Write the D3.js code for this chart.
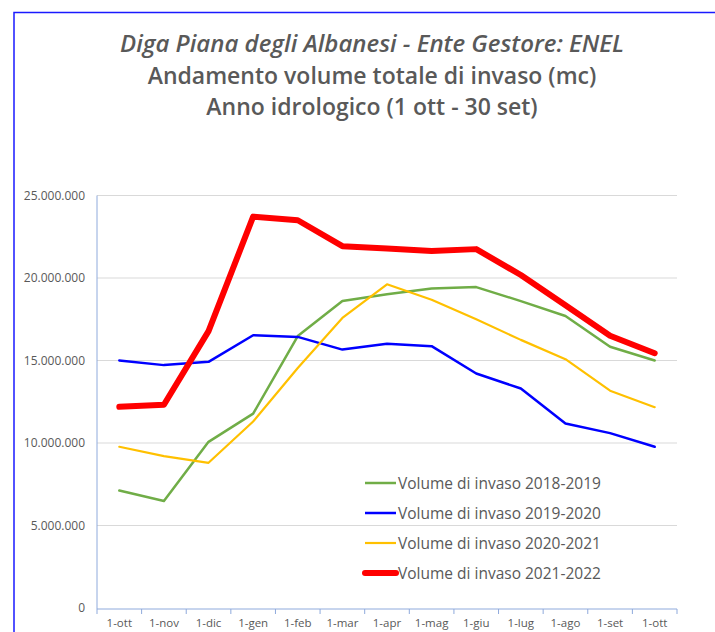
<!DOCTYPE html>
<html>
<head>
<meta charset="utf-8">
<script src="https://cdn.jsdelivr.net/npm/d3@7"></script>
<style>
  body { margin: 0; background: #fff; }
  svg { display: block; font-family: "Open Sans", sans-serif; }
</style>
</head>
<body>
<div id="chart"></div>
<script>
// data
const months = ["1-ott", "1-nov", "1-dic", "1-gen", "1-feb", "1-mar", "1-apr", "1-mag", "1-giu", "1-lug", "1-ago", "1-set", "1-ott "]
const vol2018 = [7.12, 6.48, 10.07, 11.78, 16.48, 18.6, 19.02, 19.36, 19.45, 18.6, 17.7, 15.83, 15.0]
const vol2019 = [15.0, 14.72, 14.92, 16.53, 16.43, 15.66, 16.02, 15.87, 14.21, 13.3, 11.18, 10.6, 9.77]
const vol2020 = [9.77, 9.2, 8.8, 11.3, 14.55, 17.58, 19.62, 18.68, 17.5, 16.25, 15.08, 13.17, 12.17]
const vol2021 = [12.19, 12.32, 16.78, 23.72, 23.5, 21.93, 21.79, 21.64, 21.75, 20.18, 18.35, 16.5, 15.44]
const seriesNames = ["Volume di invaso 2018-2019", "Volume di invaso 2019-2020", "Volume di invaso 2020-2021", "Volume di invaso 2021-2022"]
const yTicks = [0, 5000000, 10000000, 15000000, 20000000, 25000000]

const width = 715
const height = 632
const margin = { left: 97, right: 38, top: 195.5, bottom: 24 }
const grey = "#595959"

const series = [
  { name: seriesNames[0], values: vol2018, color: "#70AD47", w: 2.5 },
  { name: seriesNames[1], values: vol2019, color: "#0000FF", w: 2.5 },
  { name: seriesNames[2], values: vol2020, color: "#FFC000", w: 2.2 },
  { name: seriesNames[3], values: vol2021, color: "#FF0000", w: 6 }
]

const svg = d3.select("#chart").append("svg")
  .attr("width", width)
  .attr("height", height)

// frame
svg.append("path")
  .attr("d", `M14,${height} L14,12.5 L${width},12.5`)
  .attr("fill", "none")
  .attr("stroke", "#1a1aff")
  .attr("stroke-width", 1.5)

// title
const titles = [
  { t: "Diga Piana degli Albanesi - Ente Gestore: ENEL", y: 52, italic: true, size: 24 },
  { t: "Andamento volume totale di invaso (mc)", y: 84, italic: false, size: 23 },
  { t: "Anno idrologico (1 ott - 30 set)", y: 115, italic: false, size: 23 }
]
svg.append("g").selectAll("text")
  .data(titles)
  .enter()
  .append("text")
  .attr("x", 372)
  .attr("y", d => d.y)
  .attr("text-anchor", "middle")
  .attr("fill", grey)
  .attr("font-size", d => d.size)
  .attr("font-weight", 600)
  .attr("font-style", d => d.italic ? "italic" : "normal")
  .text(d => d.t)

const x = d3.scaleBand()
  .domain(months)
  .range([margin.left, width - margin.right])

const y = d3.scaleLinear()
  .domain([0, 25000000])
  .range([608, margin.top])

// gridlines
svg.append("g").selectAll("line")
  .data(yTicks.filter(d => d > 0))
  .enter()
  .append("line")
  .attr("x1", margin.left)
  .attr("x2", width - margin.right)
  .attr("y1", d => y(d))
  .attr("y2", d => y(d))
  .attr("stroke", "#D9D9D9")
  .attr("stroke-width", 1)

// y labels
svg.append("g").selectAll("text")
  .data(yTicks)
  .enter()
  .append("text")
  .attr("x", 85)
  .attr("y", d => y(d) + 4)
  .attr("text-anchor", "end")
  .attr("font-size", 12)
  .attr("fill", grey)
  .text(d => d3.format(",")(d).replace(/,/g, "."))

// axes lines
const axisColor = "#8FAADC"
svg.append("line")
  .attr("x1", margin.left).attr("x2", margin.left)
  .attr("y1", margin.top).attr("y2", 609)
  .attr("stroke", axisColor)
svg.append("line")
  .attr("x1", margin.left).attr("x2", width - margin.right)
  .attr("y1", 609).attr("y2", 609)
  .attr("stroke", axisColor)

// x ticks between bands
const tickPos = months.map(m => x(m)).concat([width - margin.right])
svg.append("g").selectAll("line")
  .data(tickPos)
  .enter()
  .append("line")
  .attr("x1", d => d).attr("x2", d => d)
  .attr("y1", 609).attr("y2", 614)
  .attr("stroke", axisColor)

svg.append("g").selectAll("text")
  .data(months)
  .enter()
  .append("text")
  .attr("x", d => x(d) + x.bandwidth() / 2)
  .attr("y", 627)
  .attr("text-anchor", "middle")
  .attr("font-size", 11.5)
  .attr("fill", grey)
  .text(d => d.trim())

// lines
const line = d3.line()
  .x((d, i) => x(months[i]) + x.bandwidth() / 2)
  .y(d => y(d * 1000000))

svg.append("g").selectAll("path")
  .data(series)
  .enter()
  .append("path")
  .attr("d", d => line(d.values))
  .attr("fill", "none")
  .attr("stroke", d => d.color)
  .attr("stroke-width", d => d.w)
  .attr("stroke-linejoin", "round")
  .attr("stroke-linecap", "round")

// legend
const legend = svg.append("g").selectAll("g")
  .data(series)
  .enter()
  .append("g")
  .attr("transform", (d, i) => `translate(365, ${483 + i * 30})`)

legend.append("line")
  .attr("x1", 0).attr("x2", 31)
  .attr("stroke", d => d.color)
  .attr("stroke-width", d => d.w)
  .attr("stroke-linecap", d => d.w > 4 ? "round" : "butt")

legend.append("text")
  .attr("x", 33)
  .attr("y", 5.5)
  .attr("font-size", 15.5)
  .attr("fill", grey)
  .text(d => d.name)
</script>
</body>
</html>
